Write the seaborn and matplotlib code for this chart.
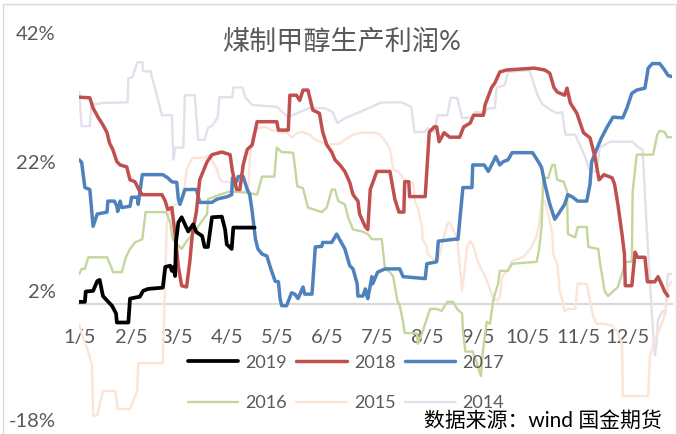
import matplotlib
matplotlib.use("Agg")
import matplotlib.pyplot as plt
import pandas as pd
import seaborn as sns
from matplotlib.patches import Rectangle

# day-of-year positions and profit (%), one pair of lists per year
days_2019 = [4.5, 8, 8.5, 13, 15.5, 17, 19, 21.5, 24.5, 27, 27.5, 34.5, 35.5, 41.5, 43.5, 46.5, 55.5, 57, 60, 61,
             62, 63, 63.5, 65, 67, 69, 71, 74, 76, 79.5, 81, 83, 85.5, 91.5, 93.5, 94.5, 97.5, 98.5, 111.5]
vals_2019 = [0.3, 0.3, 1.9, 2.0, 3.5, 3.7, 1.2, 0.5, -0.3, -1.5, -2.9, -2.9, 0.8, 1.1, 2.0, 2.3, 2.5, 5.7, 5.9, 5.1,
             5.7, 4.3, 9.5, 12.6, 13.4, 12.3, 11.2, 12.3, 11.1, 10.5, 8.8, 8.8, 13.4, 13.5, 11.5, 9.2, 8.5, 11.8, 11.8]

days_2018 = [4.5, 11, 13, 16, 19, 21.5, 23, 25, 27.5, 29.5, 33.5, 35.5, 38.5, 41.5, 43, 55, 57, 58.5, 61, 63,
             65, 67, 70, 72, 73.5, 76, 78, 82.5, 85.5, 91.5, 96.5, 98, 100.5, 102.5, 104.5, 107, 110, 113, 125, 126,
             132, 133, 137, 139, 141, 144, 147, 151, 153, 155.5, 158.5, 160.5, 163.5, 166.5, 169.5, 171.5, 174.5, 175.5, 179, 180.5,
             182, 186, 194, 197, 199.5, 202.5, 203, 205.5, 206, 215.5, 218, 221, 222.5, 224, 227, 230.5, 236.5, 239, 243, 245,
             251, 252, 256, 258, 261, 265, 282, 288.5, 291.5, 294, 296, 300.5, 302, 304, 308, 312, 316, 319, 321.5, 324.5,
             329.5, 331, 333, 335.5, 337, 337.5, 341.5, 343.5, 345, 349.5, 351, 355.5, 357.5, 360, 361.5, 363.5]
vals_2018 = [32.0, 31.9, 30.3, 28.9, 27.7, 26.5, 24.9, 23.9, 22.0, 21.5, 21.2, 19.2, 18.9, 17.4, 16.9, 16.9, 15.9, 14.6, 14.9, 10.8,
             5.7, 2.8, 2.6, 6.6, 10.8, 14.3, 19.2, 22.0, 23.1, 23.5, 23.1, 20.5, 17.7, 17.7, 21.5, 23.9, 24.6, 28.2, 28.2, 26.9,
             26.9, 32.3, 32.3, 31.5, 33.1, 33.1, 30.0, 29.5, 26.6, 24.6, 23.5, 22.3, 21.5, 20.5, 18.8, 16.9, 15.9, 13.9, 11.9, 11.5,
             17.7, 20.5, 20.5, 16.2, 14.2, 14.2, 18.9, 18.9, 16.6, 16.6, 26.6, 27.4, 27.4, 25.1, 26.5, 25.8, 25.8, 27.4, 28.0, 29.2,
             29.2, 30.8, 33.5, 34.2, 35.9, 36.2, 36.5, 36.2, 35.7, 33.5, 32.8, 32.3, 33.4, 31.1, 29.5, 26.5, 25.7, 22.8, 19.2, 20.0,
             19.5, 18.5, 15.4, 10.8, 7.7, 2.8, 2.8, 8.0, 7.2, 7.2, 3.4, 3.4, 4.2, 2.8, 1.9, 1.2]

days_2017 = [4.5, 6, 8, 11, 12.5, 13, 15.5, 21.5, 22, 26, 27.5, 28, 29.5, 30.5, 35.5, 36.5, 40, 40.5, 43, 55.5,
             58.5, 61, 64, 65, 66, 68, 69, 76, 78, 85.5, 88.5, 95, 97.5, 98, 100.5, 101.5, 104.5, 107, 108.5, 110,
             112, 113.5, 116, 119, 121, 124, 126, 127, 128, 131, 134, 136, 138, 141, 142, 146.5, 148.5, 152.5, 153, 158.5,
             161.5, 166.5, 169.5, 171.5, 174, 174.5, 177.5, 179, 180, 180.5, 183, 183.5, 186.5, 191, 200, 202, 215.5, 216.5, 222.5, 223.5,
             233.5, 235.5, 238.5, 244, 244.5, 251.5, 254, 257, 258.5, 261, 263, 266, 268.5, 281, 284.5, 286.5, 288.5, 291.5, 294.5, 297.5,
             300.5, 302.5, 305.5, 308.5, 314, 316, 317, 320, 323, 326.5, 330, 336, 338.5, 341.5, 344.5, 349.5, 351.5, 354, 358.5, 361.5,
             363.5, 365.5]
vals_2017 = [22.3, 21.9, 18.0, 17.7, 13.4, 12.0, 13.9, 14.2, 15.9, 15.9, 15.1, 14.3, 15.9, 14.9, 15.1, 16.5, 16.5, 15.4, 20.0, 20.0,
             19.5, 18.9, 18.8, 16.2, 15.4, 16.9, 17.7, 17.7, 15.7, 15.7, 16.2, 16.6, 16.9, 19.5, 18.9, 19.7, 19.7, 17.7, 16.9, 14.3,
             10.0, 8.5, 7.7, 7.4, 5.7, 3.5, 3.4, 0.8, -0.3, -0.3, 1.7, 1.5, 0.8, 2.6, 1.5, 1.5, 8.8, 8.9, 9.5, 9.5,
             10.8, 8.5, 5.9, 5.4, 3.1, 1.2, 1.2, 2.3, 1.2, 0.8, 4.2, 3.1, 4.9, 5.4, 5.4, 4.2, 3.9, 6.2, 6.5, 9.7,
             10.0, 10.0, 18.0, 18.0, 21.5, 21.5, 20.5, 22.0, 22.8, 21.5, 22.0, 22.3, 23.4, 23.4, 22.0, 21.1, 18.5, 15.4, 13.1, 14.2,
             15.4, 16.9, 16.5, 15.9, 15.9, 18.5, 22.0, 23.9, 25.7, 27.4, 28.9, 28.8, 30.3, 32.6, 33.1, 33.4, 36.5, 37.2, 37.2, 36.2,
             35.4, 35.2]

days_2016 = [4.5, 6, 8, 10, 21.5, 24.5, 25, 30.5, 33, 35.5, 38.5, 43, 45, 57.5, 60, 61.5, 67, 70, 74, 78,
             82.5, 83, 89, 96.5, 107.5, 113, 116, 123.5, 125, 128, 135, 137.5, 141, 144, 152.5, 155.5, 158.5, 160.5, 162.5, 166.5,
             168.5, 171.5, 177, 180.5, 183, 189, 191, 194, 196, 198.5, 200, 202, 203, 210.5, 211, 213.5, 218.5, 222.5, 225.5, 229,
             232.5, 235, 238, 238.5, 240, 244.5, 247, 249.5, 250.5, 253, 255, 257, 258, 260, 261, 266, 268.5, 283.5, 285, 286.5,
             287.5, 290.5, 293, 294.5, 296, 300, 302, 302.5, 307, 308.5, 314, 315, 321, 322, 325, 327, 330, 333, 335.5, 337.5,
             341.5, 342, 344.5, 354.5, 357, 358.5, 361.5, 363, 365.5]
vals_2016 = [4.6, 5.4, 5.4, 7.2, 7.2, 5.4, 4.9, 4.9, 7.2, 8.5, 9.5, 10.0, 14.2, 14.2, 12.6, 10.0, 8.5, 9.7, 10.8, 12.3,
             13.9, 16.2, 16.8, 17.4, 17.2, 16.9, 19.7, 19.7, 24.2, 23.5, 23.4, 18.2, 17.9, 14.9, 14.2, 14.9, 17.7, 17.7, 15.9, 15.4,
             13.4, 11.5, 11.2, 10.8, 10.0, 10.0, 5.4, 4.9, 4.2, 0.5, -0.3, -2.8, -4.5, -4.6, -6.2, -4.6, -0.8, -0.8, -1.1, 0.3,
             0.3, -0.8, -1.5, -4.2, -7.4, -7.4, -9.2, -11.2, -7.7, -2.8, -3.1, 0.5, 1.5, 3.1, 5.1, 5.1, 6.2, 6.5, 8.5, 12.0,
             19.5, 19.5, 21.5, 21.5, 19.2, 18.9, 17.4, 10.8, 10.3, 11.9, 11.9, 8.8, 8.5, 6.5, 1.9, 1.2, 1.9, 2.6, 4.6, 6.5,
             6.5, 17.4, 23.1, 23.1, 26.2, 26.8, 26.6, 25.8, 25.8]

days_2015 = [4.5, 6, 10, 12.3, 13, 15.5, 19, 26.5, 28, 35.5, 40, 40.5, 55.5, 57, 58, 60, 63, 66, 69, 70,
             73.5, 81, 84.5, 86, 88.5, 90.5, 92, 97.5, 99.5, 102.5, 107.5, 108.5, 110.5, 113.5, 118, 122, 125.5, 131, 134.5, 137.5,
             140.5, 145, 148.5, 151.5, 156, 163.5, 166.5, 171.5, 177, 185, 188, 192, 194, 196, 199, 202, 205, 208, 209.5, 211,
             213.5, 214, 216.5, 217, 220.5, 223.5, 225.5, 226.5, 229, 230.5, 232.5, 235, 236.5, 238, 240, 241, 243, 244.5, 247.5, 252,
             255, 257, 259.5, 261, 262.5, 265.5, 268.5, 271.5, 275.5, 279.5, 283.5, 285.5, 286.5, 288.5, 290.5, 293, 293.5, 296, 296.5, 297.5,
             299.5, 300.5, 302.5, 307, 308.5, 314, 316, 318, 320, 325, 329.5, 332.5, 335.5, 336, 351.5, 352.5, 354.5, 357.5, 360.5, 363,
             363.5, 365.5]
vals_2015 = [-3.1, -4.6, -7.4, -9.5, -17.4, -17.2, -13.5, -13.5, -16.3, -16.3, -13.4, -9.2, -9.2, 4.3, 12.6, 14.3, 15.4, 15.4, 18.5, 20.8,
             22.6, 22.6, 23.1, 22.0, 20.8, 19.2, 18.9, 18.8, 19.2, 17.4, 17.4, 22.3, 26.2, 27.2, 27.4, 26.9, 26.6, 26.5, 25.7, 26.5,
             26.6, 26.2, 25.4, 25.1, 24.6, 24.8, 25.4, 26.2, 26.5, 26.5, 26.2, 24.9, 23.9, 20.8, 20.5, 19.5, 18.9, 18.8, 15.7, 14.9,
             11.9, 10.0, 8.8, 7.7, 6.9, 6.9, 8.8, 10.0, 12.3, 12.6, 11.5, 10.0, 6.2, 2.0, 6.2, 8.8, 9.7, 9.2, 6.6, 4.2,
             2.3, 0.8, 0.5, 1.0, 4.2, 5.1, 6.6, 6.9, 7.3, 8.5, 10.5, 13.1, 15.9, 15.9, 13.9, 10.8, 7.7, 6.2, 5.1, 2.0,
             0.3, -1.2, -0.8, -0.8, 3.1, 3.1, 0.5, -2.0, -3.1, -3.1, -3.4, -4.2, -6.2, -14.3, -14.3, -8.2, -6.2, -4.6, -2.6, 0.0,
             2.6, 3.4]

days_2014 = [4.5, 6, 11, 12, 19, 34, 34.5, 37, 40, 43, 43.5, 48, 55, 61, 62, 63, 68, 69, 75, 77,
             81, 83, 86, 89, 90, 98, 98.5, 104, 106, 110, 125, 132, 139, 145, 154, 159, 162, 167, 171, 181,
             188, 193, 201, 207, 209, 215, 217, 221, 223, 229, 231, 235, 238, 244, 246, 252, 254, 258, 259, 264,
             266, 279, 284, 287, 292, 296, 299, 301, 307, 313, 316, 320, 322, 325, 328, 342, 345, 348, 349.5, 351,
             352.6, 354.4, 355.6, 356.8, 357.4, 360, 362, 363, 363.5, 365.5]
vals_2014 = [32.8, 27.5, 27.5, 30.8, 31.1, 31.2, 34.9, 35.1, 37.4, 37.4, 36.0, 36.0, 29.2, 29.2, 22.3, 24.2, 24.2, 32.3, 32.3, 25.4,
             25.4, 27.2, 27.7, 28.9, 32.0, 32.0, 33.5, 33.5, 31.9, 30.8, 30.5, 28.9, 29.7, 30.3, 30.3, 29.7, 28.0, 28.8, 29.2, 30.3,
             31.1, 31.2, 31.2, 30.5, 26.6, 26.6, 27.2, 26.6, 29.2, 29.2, 31.9, 31.9, 28.8, 28.8, 29.7, 29.7, 30.3, 30.3, 33.4, 33.9,
             35.9, 36.2, 32.3, 30.9, 30.0, 29.5, 29.7, 26.2, 26.2, 22.8, 20.5, 20.5, 24.3, 24.6, 25.1, 25.1, 24.3, 23.9, 16.9, 10.0,
             3.1, -4.2, -8.0, -5.7, -2.6, -1.1, -1.5, 3.1, 4.6, 4.6]

tick_days = [5, 36, 64, 95, 125, 156, 186, 217, 248, 278, 309, 339]
tick_labels = ["1/5", "2/5", "3/5", "4/5", "5/5", "6/5", "7/5", "8/5", "9/5", "10/5", "11/5", "12/5"]
y_ticks = [42, 22, 2, -18]

series = {
    "2019": (days_2019, vals_2019, "black", 2.7),
    "2018": (days_2018, vals_2018, "#C0504D", 2.5),
    "2017": (days_2017, vals_2017, "#4F81BD", 2.5),
    "2016": (days_2016, vals_2016, "#C3D69B", 1.7),
    "2015": (days_2015, vals_2015, "#FCE4D6", 1.7),
    "2014": (days_2014, vals_2014, "#E4DFEC", 1.7),
}

sns.set_style("white")
plt.rcParams["font.family"] = ["Lato", "Noto Sans CJK SC", "DejaVu Sans"]
grey = "#595959"

fig = plt.figure(figsize=(6.77, 4.34), dpi=100)
ax = fig.add_axes([79 / 677, 1 - 420 / 434, 593 / 677, 387.4 / 434])

# light years first so the recent ones sit on top
for year in ["2014", "2015", "2016", "2017", "2018", "2019"]:
    d, v, c, lw = series[year]
    df = pd.DataFrame({"day": d, "profit": v})
    sns.lineplot(data=df, x="day", y="profit", ax=ax, color=c, linewidth=lw,
                 estimator=None, sort=False, label=year,
                 solid_joinstyle="round", solid_capstyle="round")

ax.set_xlim(4.4, 366)
ax.set_ylim(-18, 42)
ax.set_xlabel("")
ax.set_ylabel("")
ax.set_yticks(y_ticks)
ax.set_yticklabels([f"{t}%" for t in y_ticks])
ax.set_xticks(tick_days)
ax.set_xticklabels(tick_labels)
ax.tick_params(axis="y", length=0, pad=17, labelsize=14.5, labelcolor=grey)
ax.tick_params(axis="x", length=0, pad=18, labelsize=14.5, labelcolor=grey)
for s in ["top", "right", "left"]:
    ax.spines[s].set_visible(False)
ax.spines["bottom"].set_position(("data", 0))
ax.spines["bottom"].set_color("#D9D9D9")
ax.spines["bottom"].set_linewidth(1.5)
ax.spines["bottom"].set_zorder(0.5)

if ax.get_legend() is not None:
    ax.get_legend().remove()
handles, labels = ax.get_legend_handles_labels()
lookup = dict(zip(labels, handles))
order = ["2019", "2016", "2018", "2015", "2017", "2014"]
fig.legend([lookup[k] for k in order], order, ncol=3, loc="center",
           bbox_to_anchor=(346 / 677, 1 - 383 / 434), frameon=False, fontsize=13,
           labelcolor=grey, handlelength=2.8, handletextpad=0.4, columnspacing=0.5,
           labelspacing=1.35, borderpad=0)

fig.text(342 / 677, 1 - 42 / 434, "煤制甲醇生产利润%", ha="center", va="center",
         fontsize=19.5, color=grey)
fig.text(662 / 677, 1 - 421 / 434, "数据来源：wind 国金期货", ha="right", va="center",
         fontsize=15, color="black")

fig.patches.append(Rectangle((3 / 677, -0.05), 673 / 677, 1.05 - 4 / 434,
                             transform=fig.transFigure, fill=False,
                             edgecolor="#D9D9D9", linewidth=1))

fig.savefig("out.png", dpi=100)
